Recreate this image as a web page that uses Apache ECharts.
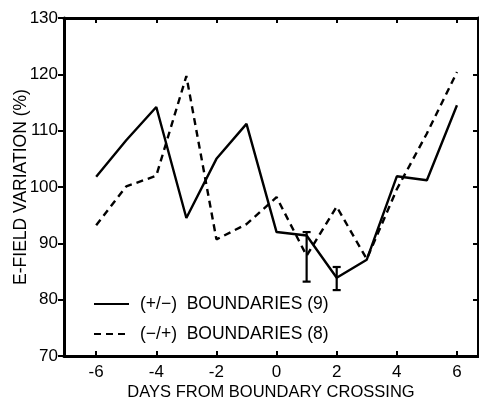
<!DOCTYPE html>
<html>
<head>
<meta charset="utf-8">
<script src="https://cdn.jsdelivr.net/npm/echarts@6/dist/echarts.min.js"></script>
<style>html,body{margin:0;padding:0;background:#fff;}#c{width:479px;height:399px;}</style>
</head>
<body>
<div id="c"></div>
<script>
var days = [-6,-5,-4,-3,-2,-1,0,1,2,3,4,5,6];
var plusMinus = [101.8,108.3,114.2,94.5,105.0,111.2,92.0,91.4,83.9,87.1,101.9,101.2,114.5];
var minusPlus = [93.2,100.1,102.0,119.7,90.7,93.4,98.2,87.8,96.5,87.2,99.6,109.5,120.4];
var errDays = [1,2];
var errLow = [83.2,81.7];
var errHigh = [92.0,85.8];
var xTicks = [-6,-4,-2,0,2,4,6];
var yTicks = [70,80,90,100,110,120,130];
var seriesNames = ['(+/\u2212)  BOUNDARIES (9)', '(\u2212/+)  BOUNDARIES (8)'];
var xTitle = 'DAYS FROM BOUNDARY CROSSING';
var yTitle = 'E-FIELD VARIATION (%)';

var FONT = 'Liberation Sans';
function pairs(xs, ys){ return xs.map(function(x,i){ return [x, ys[i]]; }); }

var chart = echarts.init(document.getElementById('c'), null, {renderer:'canvas'});
var axisLine = {show:true, onZero:false, lineStyle:{color:'#000', width:3}};
chart.setOption({
  animation:false,
  backgroundColor:'#fff',
  grid:{left:64, right:1, top:18, bottom:43, outerBoundsMode:'none', containLabel:false},
  legend:{
    orient:'vertical', left:88, top:290, itemGap:12, itemWidth:35, itemHeight:14,
    itemStyle:{opacity:0, borderWidth:0},
    textStyle:{fontFamily:FONT, fontSize:17.5, color:'#000', padding:[0,0,0,6]},
    data:[seriesNames[0], seriesNames[1]]
  },
  xAxis:[{
    type:'value', min:-7.07, max:6.7, position:'bottom',
    name:xTitle, nameLocation:'middle', nameGap:28, nameMoveOverlap:false,
    nameTextStyle:{fontFamily:FONT, fontSize:16.5, color:'#000'},
    axisLine:axisLine,
    axisTick:{show:true, inside:true, length:5, customValues:xTicks, lineStyle:{color:'#000', width:2}},
    axisLabel:{show:true, customValues:xTicks, margin:8, fontFamily:FONT, fontSize:17, color:'#000',
      formatter:function(v){ return v<0 ? '-'+Math.abs(v) : String(v); }},
    splitLine:{show:false}
  },{
    type:'value', min:-7.07, max:6.7, position:'top',
    axisLine:axisLine,
    axisTick:{show:true, inside:true, length:5, customValues:xTicks, lineStyle:{color:'#000', width:2}},
    axisLabel:{show:false}, splitLine:{show:false}
  }],
  yAxis:[{
    type:'value', min:70, max:130, interval:10, position:'left',
    name:yTitle, nameLocation:'middle', nameGap:34, nameRotate:90, nameMoveOverlap:false,
    nameTextStyle:{fontFamily:FONT, fontSize:17.5, color:'#000'},
    axisLine:axisLine,
    axisTick:{show:true, inside:false, length:6, lineStyle:{color:'#000', width:2}},
    axisLabel:{margin:6, fontFamily:FONT, fontSize:17, color:'#000'},
    splitLine:{show:false}
  },{
    type:'value', min:70, max:130, interval:10, position:'right',
    axisLine:axisLine,
    axisTick:{show:true, inside:true, length:5, lineStyle:{color:'#000', width:2}},
    axisLabel:{show:false}, splitLine:{show:false}
  }],
  series:[{
    name:seriesNames[0], type:'line', data:pairs(days, plusMinus), symbol:'none',
    lineStyle:{color:'#000', width:2.4}, itemStyle:{color:'#000'}
  },{
    name:seriesNames[1], type:'line', data:pairs(days, minusPlus), symbol:'none',
    lineStyle:{color:'#000', width:2.4, type:[7,5]}, itemStyle:{color:'#000'}
  },{
    name:'err', type:'custom',
    data:errDays.map(function(d,i){ return [d, errLow[i], errHigh[i]]; }),
    renderItem:function(params, api){
      var lo = api.coord([api.value(0), api.value(1)]);
      var hi = api.coord([api.value(0), api.value(2)]);
      var w = 4;
      var st = {stroke:'#000', lineWidth:2.2};
      return {type:'group', children:[
        {type:'line', shape:{x1:lo[0], y1:lo[1], x2:hi[0], y2:hi[1]}, style:st},
        {type:'line', shape:{x1:lo[0]-w, y1:lo[1], x2:lo[0]+w, y2:lo[1]}, style:st},
        {type:'line', shape:{x1:hi[0]-w, y1:hi[1], x2:hi[0]+w, y2:hi[1]}, style:st}
      ]};
    }
  }]
});
</script>
</body>
</html>
